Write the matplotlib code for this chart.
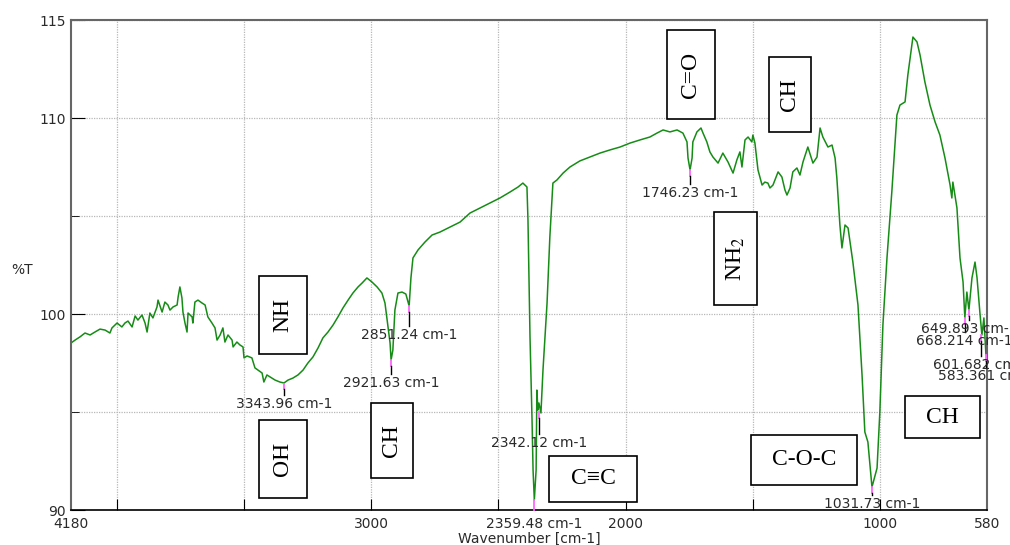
import matplotlib
matplotlib.use("Agg")
import matplotlib.pyplot as plt
from matplotlib.patches import Rectangle

# spectrum (wavenumber cm-1, %T)
wavenumber = [4180, 4164, 4145, 4125, 4105, 4086, 4066, 4046, 4027, 4019, 3999, 3980, 3968, 3956,
              3940, 3928, 3917, 3901, 3889, 3881, 3870, 3858, 3842, 3838, 3822, 3811, 3799, 3791,
              3779, 3763, 3759, 3752, 3744, 3740, 3732, 3724, 3720, 3704, 3701, 3693, 3681, 3665,
              3653, 3642, 3626, 3614, 3606, 3594, 3583, 3575, 3563, 3547, 3543, 3528, 3516, 3504,
              3500, 3488, 3469, 3457, 3445, 3429, 3422, 3410, 3398, 3378, 3359, 3343, 3327, 3308,
              3288, 3268, 3249, 3229, 3209, 3190, 3170, 3150, 3131, 3111, 3091, 3072, 3052, 3036,
              3017, 2997, 2977, 2958, 2946, 2934, 2926, 2922, 2915, 2907, 2895, 2879, 2864, 2851,
              2844, 2836, 2816, 2789, 2761, 2730, 2690, 2651, 2612, 2572, 2533, 2494, 2455, 2423,
              2404, 2388, 2384, 2376, 2368, 2364, 2359, 2352, 2349, 2345, 2341, 2333, 2325, 2309,
              2298, 2286, 2270, 2246, 2219, 2180, 2140, 2101, 2062, 2022, 1983, 1944, 1905, 1877,
              1853, 1826, 1798, 1775, 1759, 1755, 1747, 1739, 1736, 1720, 1704, 1696, 1681, 1669,
              1657, 1637, 1618, 1598, 1578, 1563, 1551, 1543, 1531, 1519, 1504, 1500, 1492, 1480,
              1464, 1453, 1441, 1433, 1421, 1401, 1386, 1374, 1366, 1354, 1343, 1327, 1315, 1303,
              1284, 1264, 1248, 1236, 1225, 1205, 1189, 1177, 1170, 1158, 1150, 1138, 1126, 1107,
              1087, 1071, 1060, 1048, 1032, 1012, 1001, 989, 973, 954, 934, 922, 902, 891,
              871, 855, 843, 824, 804, 784, 765, 745, 725, 718, 714, 698, 686, 674,
              667, 659, 651, 639, 627, 619, 608, 600, 592, 584, 580]
transmittance = [98.52, 98.67, 98.83, 99.03, 98.93, 99.08, 99.23, 99.18, 99.03, 99.29, 99.54, 99.34, 99.54, 99.64,
                 99.34, 99.90, 99.69, 99.95, 99.54, 99.08, 100.05, 99.80, 100.36, 100.71, 100.10, 100.61, 100.46, 100.20,
                 100.36, 100.46, 100.87, 101.38, 100.82, 100.10, 99.54, 99.08, 100.05, 99.85, 99.54, 100.61, 100.71, 100.56,
                 100.46, 99.85, 99.54, 99.29, 98.67, 98.93, 99.29, 98.57, 98.93, 98.67, 98.32, 98.57, 98.42, 98.32,
                 97.76, 97.86, 97.76, 97.25, 97.14, 96.99, 96.53, 96.89, 96.79, 96.63, 96.53, 96.48, 96.63, 96.73,
                 96.89, 97.14, 97.50, 97.81, 98.27, 98.78, 99.08, 99.44, 99.85, 100.31, 100.71, 101.07, 101.38, 101.58,
                 101.84, 101.63, 101.38, 101.07, 100.56, 99.34, 98.52, 97.65, 98.16, 100.20, 101.07, 101.12, 101.02, 100.41,
                 101.84, 102.86, 103.27, 103.67, 104.03, 104.18, 104.44, 104.69, 105.15, 105.41, 105.66, 105.92, 106.22, 106.48,
                 106.68, 106.48, 104.80, 98.83, 94.59, 92.04, 90.51, 92.04, 96.12, 95.10, 95.46, 94.95, 97.14, 100.56,
                 103.93, 106.68, 106.84, 107.19, 107.50, 107.81, 108.01, 108.21, 108.37, 108.52, 108.72, 108.88, 109.03, 109.23,
                 109.39, 109.29, 109.39, 109.23, 108.78, 107.96, 107.35, 107.96, 108.78, 109.29, 109.49, 109.23, 108.78, 108.27,
                 108.01, 107.70, 108.21, 107.76, 107.19, 107.86, 108.27, 107.50, 108.88, 109.03, 108.78, 109.13, 108.72, 107.35,
                 106.58, 106.73, 106.68, 106.43, 106.58, 107.25, 106.99, 106.33, 106.07, 106.43, 107.25, 107.45, 107.09, 107.76,
                 108.52, 107.70, 108.01, 109.49, 109.03, 108.52, 108.62, 107.96, 106.94, 104.54, 103.37, 104.54, 104.39, 102.65,
                 100.46, 96.89, 93.98, 93.47, 91.17, 92.14, 95.00, 99.44, 102.86, 106.22, 110.15, 110.66, 110.82, 112.19,
                 114.13, 113.88, 113.21, 111.84, 110.66, 109.80, 109.13, 107.96, 106.58, 105.92, 106.73, 105.41, 102.86, 101.63,
                 99.80, 101.12, 100.20, 101.84, 102.65, 101.84, 100.10, 98.93, 99.80, 97.91, 98.42]

# picked peaks
peak_wn = [3343.96, 2921.63, 2851.24, 2342.12, 1746.23, 1031.73, 668.214, 649.893, 601.682, 583.361]
peak_t = [96.45, 97.65, 100.41, 95.00, 107.35, 91.17, 99.80, 100.20, 98.93, 97.91]
peak_label_t = [95.41, 96.48, 98.93, 93.42, 106.17, 90.31, 98.62, 99.23, 97.40, 96.84]

# group labels in boxes
groups = ["NH", "OH", "CH", "C\u2261C", "C=O", "CH", r"NH$_2$", "C-O-C", "CH"]
group_rot = [90, 90, 90, 0, 90, 90, 90, 0, 0]
# box extents: (wn high, wn low, %T low, %T high)
group_box = [(3441, 3253, 97.96, 101.94),
             (3441, 3253, 90.61, 94.59),
             (3001, 2836, 91.63, 95.46),
             (2301, 1956, 90.41, 92.76),
             (1838, 1649, 109.95, 114.49),
             (1437, 1272, 109.29, 113.11),
             (1653, 1484, 100.46, 105.20),
             (1508, 1091, 91.28, 93.83),
             (902, 608, 93.67, 95.82)]

plt.rcParams['mathtext.fontset'] = 'stix'
serif = ['Liberation Serif', 'DejaVu Serif']
txt = '#2a2a2a'

fig = plt.figure(figsize=(10.1, 5.45), dpi=100)
ax = fig.add_axes([0.0703, 0.0642, 0.9069, 0.8991])

ax.plot(wavenumber, transmittance, color='#168c16', lw=1.1, zorder=2)
ax.set_xlim(4180, 580)
ax.set_ylim(90, 115)

# ticks
ax.set_xticks([4000, 3500, 3000, 2500, 2000, 1500, 1000], ['', '', '3000', '', '2000', '', '1000'])
ax.set_xticks([4180, 2359.48, 580], ['4180', '2359.48 cm-1', '580'], minor=True)
ax.set_yticks([90, 100, 110, 115], ['90', '100', '110', '115'])
ax.set_yticks([95, 105], minor=True)
ax.tick_params(axis='x', which='major', direction='in', length=8, pad=5, labelsize=10, labelcolor=txt)
ax.tick_params(axis='x', which='minor', direction='in', length=0, pad=5, labelsize=10, labelcolor=txt)
ax.tick_params(axis='y', which='major', direction='in', length=10, pad=4, labelsize=10, labelcolor=txt)
ax.tick_params(axis='y', which='minor', direction='in', length=6)
ax.xaxis.grid(True, which='major', color='#b8b8b8', linestyle=(0, (1, 1)), lw=0.9)
ax.yaxis.grid(True, which='both', color='#b8b8b8', linestyle=(0, (1, 1)), lw=0.9)
ax.set_axisbelow(True)

for s in ['top', 'right', 'left']:
    ax.spines[s].set_color('#666666')
    ax.spines[s].set_linewidth(1.5)
ax.spines['bottom'].set_color('black')
ax.spines['bottom'].set_linewidth(1.2)

fig.text(22 / 1010, 1 - 270 / 545, '%T', ha='center', va='center', fontsize=10, color=txt)
fig.text(529 / 1010, 1 - 539 / 545, 'Wavenumber [cm-1]', ha='center', va='center', fontsize=10, color=txt)

# peak markers
ax.plot([2359.48, 2359.48], [90.51, 90.0], color='#ff66ff', lw=1.3, zorder=3, clip_on=False)
for wn, t, tl in zip(peak_wn, peak_t, peak_label_t):
    ax.plot([wn, wn], [t, t - 0.3], color='#ff66ff', lw=1.3, zorder=3)
    ax.plot([wn, wn], [t - 0.3, tl + 0.45], color='black', lw=1.0, zorder=3)
    ax.text(wn, tl, f'{wn:g} cm-1', ha='center', va='center', fontsize=10, color=txt,
            clip_on=False, zorder=4)

# boxes
for name, rot, (hi, lo, tb, tt) in zip(groups, group_rot, group_box):
    ax.add_patch(Rectangle((lo, tb), hi - lo, tt - tb, facecolor='white', edgecolor='black',
                           lw=1.2, zorder=5))
    ax.text((hi + lo) / 2, (tb + tt) / 2, name, rotation=rot, ha='center', va='center',
            fontsize=17, family=serif, zorder=6)

fig.savefig('out.png', dpi=100)
